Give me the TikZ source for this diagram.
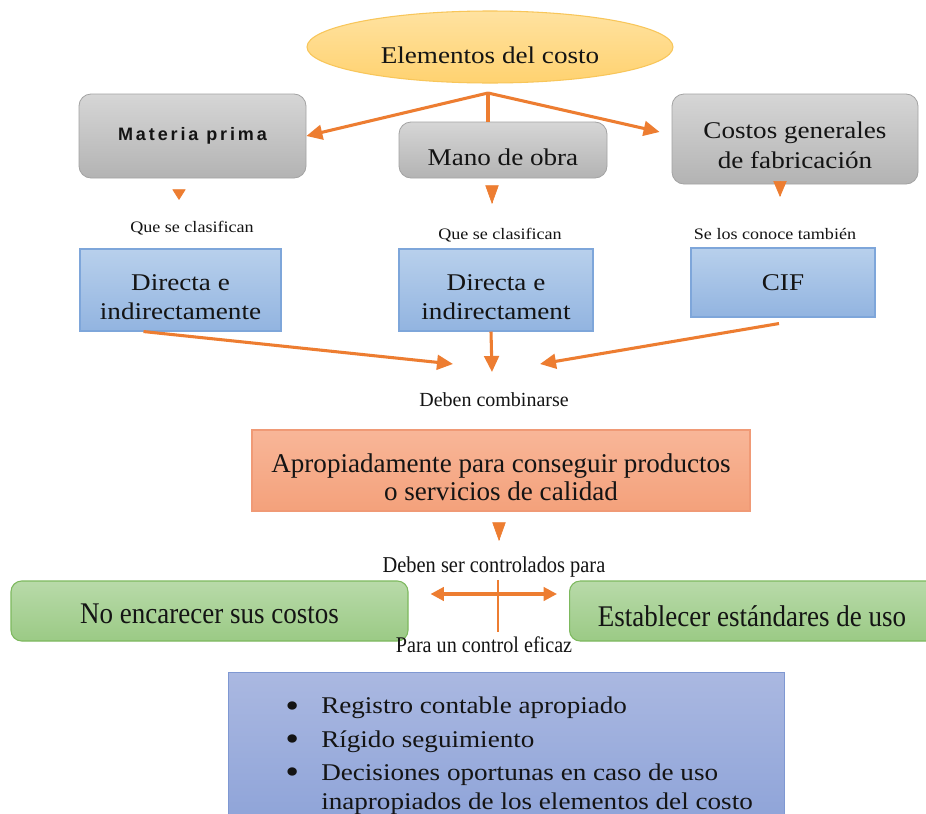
\documentclass[tikz,border=0pt]{standalone}
\usepackage{fontspec}
\setmainfont{Liberation Serif}
\newfontfamily\widefont{Liberation Serif}[FakeStretch=1.13]
\newfontfamily\narrowfont{Liberation Serif}[FakeStretch=0.9]
\newfontfamily\spacedsans{Liberation Sans}[LetterSpace=16]
\usetikzlibrary{shapes.geometric,arrows.meta,calc}

\definecolor{arrowc}{HTML}{ED7D31}
\definecolor{elTop}{HTML}{FFE2A0}
\definecolor{elBot}{HTML}{FFD270}
\definecolor{elLine}{HTML}{F8C65A}
\definecolor{grTop}{HTML}{D6D6D6}
\definecolor{grBot}{HTML}{B3B3B3}
\definecolor{grLine}{HTML}{A3A3A3}
\definecolor{blTop}{HTML}{B8D0EC}
\definecolor{blBot}{HTML}{92B4E0}
\definecolor{blLine}{HTML}{7EA6DA}
\definecolor{orTop}{HTML}{F8B698}
\definecolor{orBot}{HTML}{F4A17B}
\definecolor{orLine}{HTML}{F09A76}
\definecolor{gnTop}{HTML}{B8DAA9}
\definecolor{gnBot}{HTML}{9BCA85}
\definecolor{gnLine}{HTML}{7DB95E}
\definecolor{lsTop}{HTML}{AAB8E1}
\definecolor{lsBot}{HTML}{8BA1D7}
\definecolor{lsLine}{HTML}{7F98D2}
\definecolor{ink}{HTML}{141414}

% lowered, centred block of lines inside a box
\newcommand\droptext[2]{\raisebox{-#1}[\height][\depth]{\begin{tabular}{@{}c@{}}#2\end{tabular}}}
\newcommand\bigbullet{\raisebox{-2.5pt}{\scalebox{1.45}{\textbullet}}}

\tikzset{
  sz/.style 2 args={minimum width=#1*0.75pt, minimum height=#2*0.75pt},
  base/.style={inner sep=0pt, text=ink},
  graybox/.style={base, draw=grLine, top color=grTop, bottom color=grBot, rounded corners=9pt, line width=0.6pt},
  bluebox/.style={base, draw=blLine, top color=blTop, bottom color=blBot, line width=0.8pt},
  orangebox/.style={base, draw=orLine, top color=orTop, bottom color=orBot, line width=0.8pt},
  greenbox/.style={base, draw=gnLine, top color=gnTop, bottom color=gnBot, rounded corners=8pt, line width=0.8pt},
  listbox/.style={base, draw=lsLine, top color=lsTop, bottom color=lsBot, line width=0.8pt},
  bigtxt/.style={font=\widefont\fontsize{18}{22}\selectfont},
  smalltxt/.style={base, font=\widefont\fontsize{12}{14}\selectfont},
  conn/.style={draw=arrowc, line width=2.3pt},
  arr/.style={conn, -{Triangle[length=12pt,width=11pt]}},
  darr/.style={conn, {Triangle[length=10pt,width=10pt]}-{Triangle[length=10pt,width=10pt]}},
  stub/.style={draw=arrowc, line width=0.5pt, -{Triangle[length=#1,width=10pt]}},
  stub/.default=10pt
}

\begin{document}
\begin{tikzpicture}[x=0.75pt,y=-0.75pt]
\useasboundingbox (0,0) rectangle (926,814);
\clip (0,0) rectangle (926,814);
\fill[white] (0,0) rectangle (926,814);

% title
\node[base, ellipse, sz={366}{72}, draw=elLine, top color=elTop, bottom color=elBot, line width=0.8pt, bigtxt] (el) at (490,47) {\droptext{8pt}{Elementos del costo}};

% three cost elements
\node[graybox, sz={227}{84}, font=\spacedsans\bfseries\fontsize{13.5}{16}\selectfont] (mp) at (192.5,136) {Materia prima};
\node[graybox, sz={208}{56}, bigtxt] (mo) at (503,150) {\droptext{7pt}{Mano de obra}};
\node[graybox, sz={246}{90}, bigtxt] (cg) at (795,139) {\droptext{6.5pt}{Costos generales\\de fabricación}};

\coordinate (root) at (488,93);
\draw[arr] (root) -- (mp.east);
\draw[conn] (root) -- (root |- mo.north);
\draw[arr] (root) -- ($(cg.west)+(-12,-7)$);

% captions under the elements
\node[smalltxt] (q1) at (192,228) {Que se clasifican};
\node[smalltxt] (q2) at (500,235) {Que se clasifican};
\node[smalltxt] (q3) at (775,234) {Se los conoce también};

\coordinate (s1) at (179,200);
\coordinate (s2) at (492,204);
\coordinate (s3) at (780,197);
\draw[stub=8pt] ($(s1)+(0,-1)$) -- (s1);
\draw[stub=14pt] ($(s2)+(0,-1)$) -- (s2);
\draw[stub=12pt] ($(s3)+(0,-1)$) -- (s3);

% classification boxes
\node[bluebox, sz={201}{82}, bigtxt] (d1) at (180.5,290) {\droptext{7pt}{Directa e\\indirectamente}};
\node[bluebox, sz={194}{82}, bigtxt] (d2) at (496,290) {\droptext{7pt}{Directa e\\indirectament}};
\node[bluebox, sz={184}{69}, bigtxt] (cif) at (783,282.5) {CIF};

\coordinate (m1) at (453,364);
\coordinate (m2) at (492,372);
\coordinate (m3) at (540,364);
\draw[arr] ($(d1.south)+(-37,0)$) -- (m1);
\draw[arr] ($(d2.south)+(-5,0)$) -- (m2);
\draw[arr] ($(cif.south)+(-4,6)$) -- (m3);

\node[base, font=\fontsize{15}{18}\selectfont] (c1) at (494,400) {Deben combinarse};

% combined result
\node[orangebox, sz={498}{81}, font=\fontsize{20.3}{21}\selectfont] (ap) at (501,470.5) {\droptext{7.5pt}{Apropiadamente para conseguir productos\\o servicios de calidad}};

\coordinate (s4) at (499,541);
\draw[stub=14pt] ($(s4)+(0,-1)$) -- (s4);

\node[base, font=\narrowfont\fontsize{17}{20}\selectfont] (c2) at (494,567) {Deben ser controlados para};

% control purposes
\node[greenbox, sz={397}{60}, font=\narrowfont\fontsize{22.5}{26}\selectfont] (g1) at (209.5,611) {\droptext{4.5pt}{No encarecer sus costos}};
\node[greenbox, sz={380}{60}, anchor=west, font=\narrowfont\fontsize{22.5}{26}\selectfont] (g2) at (569,611) {};
\node[base, font=\narrowfont\fontsize{22.5}{26}\selectfont] (g2t) at (752,616) {Establecer estándares de uso};

\draw[darr] ($(g1.east)+(22,-17)$) -- ($(g2.west)+(-12,-17)$);
\coordinate (vtop) at (498,580);
\coordinate (vbot) at (498,632);
\draw[conn, line width=1.8pt] (vtop) -- (vbot);

\node[base, font=\narrowfont\fontsize{16.8}{20}\selectfont] (c3) at (484,645) {Para un control eficaz};

% effective control list
\node[listbox, sz={556}{170}, anchor=north west] (lst) at (228,672) {};
\node[base, anchor=north west, bigtxt, align=left] (items) at (285,693)
  {\begin{tabular}{@{}p{27pt}@{}l@{}}
   \bigbullet & Registro contable apropiado\\[3pt]
   \bigbullet & Rígido seguimiento\\[3pt]
   \bigbullet & Decisiones oportunas en caso de uso\\
              & inapropiados de los elementos del costo
   \end{tabular}};
\end{tikzpicture}
\end{document}
